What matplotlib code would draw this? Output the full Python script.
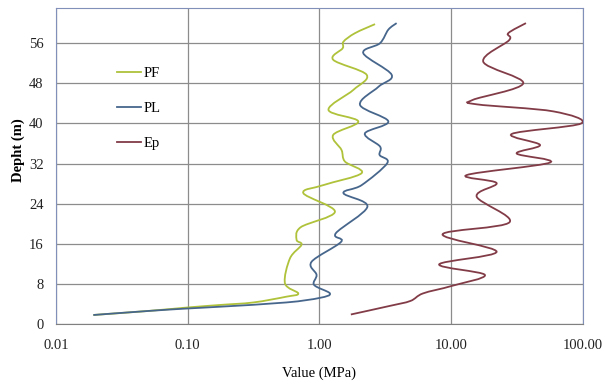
import numpy as np
import matplotlib
matplotlib.use("Agg")
import matplotlib.pyplot as plt
from matplotlib.path import Path
from matplotlib.patches import PathPatch
from matplotlib.lines import Line2D

# values (depth in m, value in MPa)
depth_pf = [1.8, 2.6, 3.3, 3.8, 4.3, 5.45, 6.1, 8.1, 13.1, 15.8, 16.8, 19.3, 22.4,
            26.1, 27.7, 30.1, 32.4, 34.7, 37.7, 40.4, 42.7, 46.7, 49.7, 52.7,
            55.0, 56.3, 58.0, 59.8]
pf = [0.0192, 0.05, 0.1, 0.176, 0.315, 0.56, 0.69, 0.547, 0.597, 0.73, 0.67, 0.72, 1.31,
      0.754, 1.07, 2.09, 1.56, 1.47, 1.27, 1.97, 1.17, 1.81, 2.28, 1.27,
      1.50, 1.52, 1.86, 2.64]

depth_pl = [1.8, 2.6, 3.1, 3.45, 4.3, 5.2, 6.1, 7.8, 9.8, 12.4, 16.4, 18.1, 23.4,
            26.1, 27.7, 32.1, 33.7, 35.4, 38.0, 40.4, 43.7, 47.3, 49.7, 54.0,
            56.0, 58.7, 60.0]
pl = [0.0192, 0.05, 0.1, 0.176, 0.56, 1.0, 1.20, 0.91, 0.95, 0.87, 1.46, 1.33, 2.31,
      1.52, 2.09, 3.27, 2.86, 2.88, 2.21, 3.33, 2.03, 2.80, 3.53, 2.15,
      2.88, 3.33, 3.85]

depth_ep = [1.9, 3.6, 4.6, 6.1, 7.6, 9.8, 11.9, 14.4, 17.9, 20.3, 25.4, 28.1, 29.7,
            32.2, 34.0, 35.7, 37.9, 40.0, 42.4, 43.8, 44.7, 48.0, 52.3, 56.6,
            58.0, 60.0]
ep = [1.73, 3.4, 4.9, 6.1, 10.1, 18.0, 8.1, 22.1, 8.6, 27.7, 15.6, 22.1, 13.1,
      56.2, 31.4, 47.2, 28.8, 97.0, 59.6, 15.7, 14.6, 35.2, 17.5, 27.5,
      27.1, 36.9]

series_names = ["PF", "PL", "Ep"]
series_colors = ["#afc23a", "#47668c", "#823c48"]

yticks = [0, 8, 16, 24, 32, 40, 48, 56]
xticks = [0.01, 0.1, 1, 10, 100]
xticklabels = ["0.01", "0.10", "1.00", "10.00", "100.00"]

plt.rcParams['font.family'] = ['Liberation Serif', 'DejaVu Serif']


def smooth_path(xs, ys):
    # Excel-like smoothed line: Catmull-Rom turned into cubic Bezier segments,
    # worked out in (log10 x, y) so it looks right on the log axis
    lx = np.log10(xs)
    y = np.asarray(ys, float)
    n = len(lx)
    verts = [(xs[0], y[0])]
    codes = [Path.MOVETO]
    for i in range(n - 1):
        i0 = max(i - 1, 0)
        i3 = min(i + 2, n - 1)
        c1 = (lx[i] + (lx[i + 1] - lx[i0]) / 6, y[i] + (y[i + 1] - y[i0]) / 6)
        c2 = (lx[i + 1] - (lx[i3] - lx[i]) / 6, y[i + 1] - (y[i3] - y[i]) / 6)
        verts += [(10 ** c1[0], c1[1]), (10 ** c2[0], c2[1]), (xs[i + 1], y[i + 1])]
        codes += [Path.CURVE4] * 3
    return Path(verts, codes)


fig = plt.figure(figsize=(6.12, 3.85), dpi=100)
ax = fig.add_axes([0.0915, 0.1584, 0.8611, 0.8206])
ax.set_xscale("log")
ax.set_xlim(0.01, 100)
ax.set_ylim(0, 63)

for xs, ds, c in zip([pf, pl, ep], [depth_pf, depth_pl, depth_ep], series_colors):
    ax.add_patch(PathPatch(smooth_path(xs, ds), facecolor="none", edgecolor=c,
                           lw=1.3, transform=ax.transData, zorder=3))

ax.set_xticks(xticks)
ax.set_xticklabels(xticklabels)
ax.set_yticks(yticks)
ax.minorticks_off()
ax.tick_params(length=0, labelsize=10.5, colors="#222222")
ax.tick_params(axis="x", pad=11)
ax.tick_params(axis="y", pad=9)
ax.grid(True, color="#8c8c8c", lw=0.9)
ax.set_axisbelow(True)
for s in ["top", "right", "left"]:
    ax.spines[s].set_color("#8090b8")
ax.spines["bottom"].set_color("#808080")

ax.set_ylabel("Depht (m)", fontsize=10.5, fontweight="bold")
ax.yaxis.set_label_coords(-0.059, 0.55)
ax.set_xlabel("Value (MPa)", fontsize=10.5)
ax.xaxis.set_label_coords(0.5, -0.135)

handles = [Line2D([], [], color=c, lw=1.3) for c in series_colors]
ax.legend(handles, series_names, loc="upper left", bbox_to_anchor=(0.116, 0.815),
          frameon=False, borderpad=0, borderaxespad=0, handlelength=1.65,
          handletextpad=0.15, labelspacing=1.5, fontsize=10.5)

fig.savefig("out.png", dpi=100)
